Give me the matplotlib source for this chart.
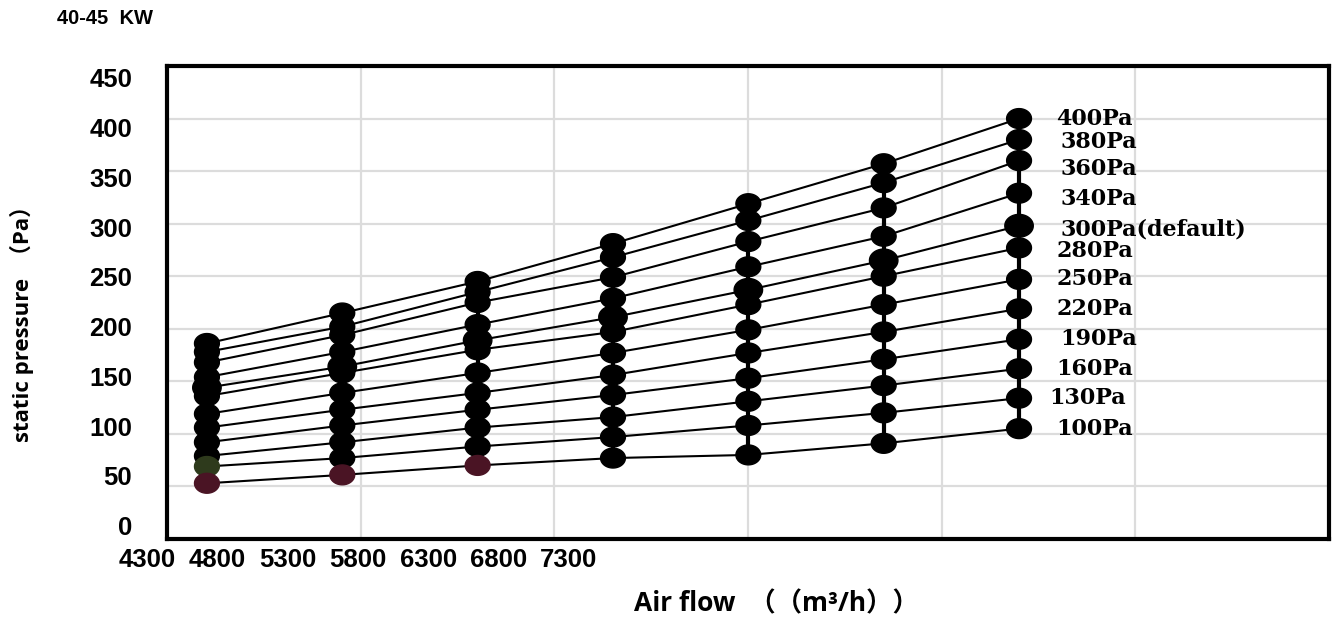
import numpy as np
import matplotlib.pyplot as plt
from matplotlib.path import Path

# air flow of the seven measuring columns (m3/h)
airflow = [4800, 5800, 6800, 7800, 8800, 9800, 10800]

# static pressure curves, read top to bottom
series_names = ['400Pa', '380Pa', '360Pa', '340Pa', '300Pa(default)', '280Pa',
                '250Pa', '220Pa', '190Pa', '160Pa', '130Pa', '100Pa']
p400 = [186, 215, 245, 281, 319, 357, 400]
p380 = [178, 202, 235, 268, 303, 339, 380]
p360 = [168, 194, 225, 249, 283, 315, 360]
p340 = [154, 178, 204, 229, 259, 288, 329]
p300 = [144, 164, 189, 211, 237, 265, 298]
p280 = [136, 158, 180, 197, 223, 250, 277]
p250 = [119, 139, 158, 177, 199, 223, 247]
p220 = [106, 123, 139, 156, 177, 197, 219]
p190 = [92, 108, 123, 137, 153, 171, 190]
p160 = [79, 92, 106, 116, 131, 146, 162]
p130 = [69, 77, 88, 97, 108, 120, 134]
p100 = [53, 61, 70, 77, 80, 91, 105]
pressures = [p400, p380, p360, p340, p300, p280, p250, p220, p190, p160, p130, p100]

x_tick_labels = ['4300', '4800', '5300', '5800', '6300', '6800', '7300']
y_tick_values = [0, 50, 100, 150, 200, 250, 300, 350, 400, 450]

# small nudges of the curve labels (points), as in the source
label_dx = [0, 3, 3, 3, 3, 0, 0, 0, 3, 0, -5, 0]
label_dy = [0, -2, -6, -4, -3, -2, 0, 0, 0, 0, 0, 0]

# flattened ellipse marker like the original
t = np.linspace(0, 2 * np.pi, 60)
ellipse = Path(np.column_stack([1.25 * np.cos(t), np.sin(t)]), closed=True)

fig = plt.figure(figsize=(13.4, 6.2), dpi=100)
ax = fig.add_axes([167 / 1340, 81 / 620, 1162 / 1340, 473 / 620])

ax.set_xlim(4505, 13090)
ax.set_ylim(0, 450)
ax.set_xticks(np.linspace(4505, 13090, 7))
ax.set_yticks(y_tick_values)
ax.set_xticklabels([])
ax.set_yticklabels([])
ax.tick_params(length=0)
ax.grid(True, color='#dcdcdc', linewidth=1.6)
ax.set_axisbelow(True)
for s in ax.spines.values():
    s.set_linewidth(3)
    s.set_color('black')

# vertical connectors in every column
cols = np.array(pressures)
ax.vlines(airflow, cols.min(axis=0), cols.max(axis=0), color='black', linewidth=3, zorder=2)

for i, (name, vals) in enumerate(zip(series_names, pressures)):
    ax.plot(airflow, vals, color='black', linewidth=1.5, zorder=2)
    colors = ['black'] * len(vals)
    if name == '100Pa':
        colors[:3] = ['#4a1424'] * 3
    if name == '130Pa':
        colors[0] = '#2e3a1c'
    size = 420 if name == '300Pa(default)' else 320
    ax.scatter(airflow, vals, s=size, marker=ellipse, c=colors, zorder=3)
    ax.annotate(name, (airflow[-1], vals[-1]), xytext=(27 + label_dx[i], label_dy[i]),
                textcoords='offset points', ha='left', va='center',
                fontsize=16, fontweight='bold', family='DejaVu Serif')

# tick labels of the source are not aligned with the grid
for k, lab in enumerate(x_tick_labels):
    ax.text(-0.0172 + k * 0.0605, -0.045, lab, transform=ax.transAxes,
            ha='center', va='center', fontsize=18.5, fontweight='bold', family='Liberation Sans')
for v in y_tick_values:
    ax.text(-0.03, 0.023 + v / 450 * 0.947, str(v), transform=ax.transAxes,
            ha='right', va='center', fontsize=18.5, fontweight='bold', family='Liberation Sans')

fig.text(57 / 1340, 1 - 19 / 620, '40-45  KW', ha='left', va='center',
         fontsize=14.5, fontweight='bold', family='Liberation Sans')
fig.text(22 / 1340, 1 - 318 / 620, 'static pressure  （Pa）', rotation=90,
         ha='center', va='center', fontsize=16, fontweight='bold',
         family=['Open Sans', 'Noto Sans CJK SC'])
fig.text(776 / 1340, 1 - 604 / 620, 'Air flow  （（m³/h））', ha='center', va='center',
         fontsize=19, fontweight='bold', family=['Open Sans', 'Noto Sans CJK SC'])

fig.savefig('out.png', dpi=100)
